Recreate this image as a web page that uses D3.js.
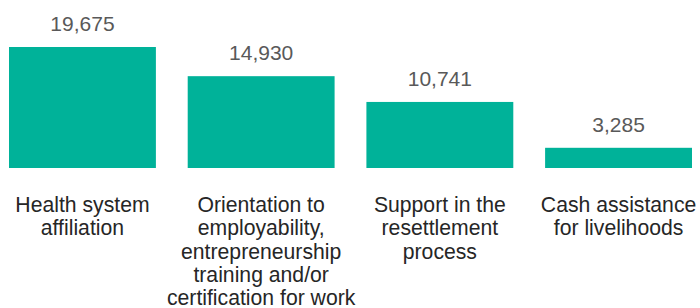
<!DOCTYPE html>
<html>
<head>
<meta charset="utf-8">
<script src="https://cdn.jsdelivr.net/npm/d3@7"></script>
<style>
  body { margin: 0; background: #fff; }
  text { font-family: "Liberation Sans", Arial, sans-serif; }
</style>
</head>
<body>
<script>
// data
var categories = [
  ["Health system", "affiliation"],
  ["Orientation to", "employability,", "entrepreneurship", "training and/or", "certification for work"],
  ["Support in the", "resettlement", "process"],
  ["Cash assistance", "for livelihoods"]
];
var values = [19675, 14930, 10741, 3285];

var svgWidth = 700;
var svgHeight = 308;

var svg = d3.select("body")
  .append("svg")
  .attr("width", svgWidth)
  .attr("height", svgHeight);

var keys = categories.map(function(c, i) { return i; });

var x = d3.scaleBand()
  .domain(keys)
  .range([9, 692])
  .paddingInner(0.178)
  .paddingOuter(0);

var y = d3.scaleLinear()
  .domain([0, d3.max(values)])
  .range([168, 47]);

// bars
svg.selectAll("rect.bar")
  .data(values)
  .enter()
  .append("rect")
  .attr("class", "bar")
  .attr("x", function(d, i) { return x(i); })
  .attr("y", function(d) { return y(d); })
  .attr("width", x.bandwidth())
  .attr("height", function(d) { return y(0) - y(d); })
  .attr("fill", "#00b299");

// value labels
svg.selectAll("text.value")
  .data(values)
  .enter()
  .append("text")
  .attr("class", "value")
  .attr("x", function(d, i) { return x(i) + x.bandwidth() / 2; })
  .attr("y", function(d) { return y(d) - 16; })
  .attr("text-anchor", "middle")
  .attr("font-size", "21px")
  .attr("fill", "#595959")
  .text(function(d) { return d3.format(",")(d); });

// category axis, no line or ticks
var xAxis = svg.append("g")
  .attr("transform", "translate(0," + y(0) + ")")
  .call(d3.axisBottom(x).tickSize(0).tickFormat(""));

xAxis.select(".domain").remove();

xAxis.selectAll(".tick text")
  .attr("y", 0)
  .attr("dy", null)
  .attr("font-size", "21.2px")
  .attr("font-family", "'Liberation Sans', Arial, sans-serif")
  .attr("fill", "#262626")
  .each(function(k) {
    var t = d3.select(this);
    categories[k].forEach(function(line, j) {
      t.append("tspan")
        .attr("x", 0)
        .attr("y", 44 + j * 23.25)
        .text(line);
    });
  });
</script>
</body>
</html>
